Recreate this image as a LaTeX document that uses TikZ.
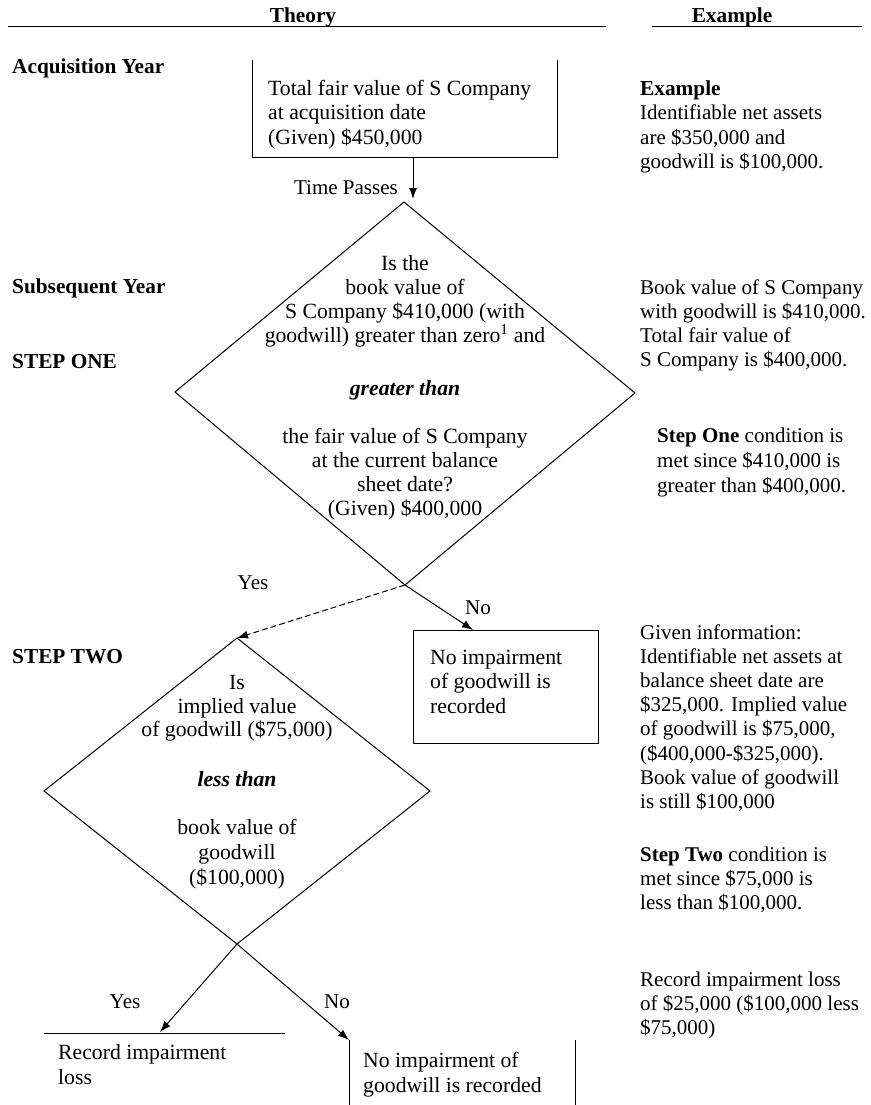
\documentclass[tikz,border=0pt]{standalone}
\usepackage{fontspec}
\setmainfont{Liberation Serif}
\usetikzlibrary{arrows.meta}
\begin{document}
\begin{tikzpicture}[x=1pt,y=-1pt,
  every node/.style={inner sep=0pt, font=\fontsize{21}{24}\selectfont},
  lw/.style={anchor=base west},
  lc/.style={anchor=base},
  big/.style={font=\fontsize{21.7}{24}\selectfont},
  bf/.style={font=\fontsize{21.3}{24}\selectfont\bfseries},
  ln/.style={line width=1pt},
  arr/.style={line width=1pt, -{Latex[length=11pt,width=8pt]}},
  dsh/.style={dash pattern=on 6pt off 3pt}
]
\useasboundingbox (0,0) rectangle (870,1105);

% header
\coordinate (h1a) at (8,27); \coordinate (h1b) at (606,27);
\coordinate (h2a) at (652,27); \coordinate (h2b) at (862,27);
\draw[ln] (h1a) -- (h1b);
\draw[ln] (h2a) -- (h2b);
\node[bf,lc] (hth) at (303,23) {Theory};
\node[bf,lc] (hex) at (732,23) {Example};

% left labels
\node[bf,lw] (acq) at (12,74) {Acquisition Year};
\node[bf,lw] (subs) at (12,293) {Subsequent Year};
\node[bf,lw] (s1) at (12,368) {STEP ONE};
\node[bf,lw] (s2) at (12,663) {STEP TWO};

% top box (open at top)
\coordinate (tbtl) at (252,60); \coordinate (tbbl) at (252,157);
\coordinate (tbbr) at (557,157); \coordinate (tbtr) at (557,60);
\draw[ln] (tbtl) -- (tbbl) -- (tbbr) -- (tbtr);
\foreach \t [count=\i] in {Total fair value of S Company, at acquisition date, {(Given) \$450,000}}
  \node[lw,big] (tb\i) at (268,{96+24*(\i-1)}) {\t};

% arrow time passes
\coordinate (tpa) at (413,157); \coordinate (tpb) at (413,199);
\draw[arr] (tpa) -- (tpb);
\node[anchor=base east] (tp) at (398,194) {Time Passes};

% diamond 1
\coordinate (d1t) at (404,202); \coordinate (d1r) at (635,393);
\coordinate (d1b) at (405,585); \coordinate (d1l) at (175,392);
\draw[ln] (d1t) -- (d1r) -- (d1b) -- (d1l) -- cycle;
\foreach \t/\yy [count=\i] in {Is the/270, book value of/294, {S Company \$410,000 (with}/318,
   {goodwill) greater than zero\textsuperscript{1} and}/342, {\textbf{\textit{greater than}}}/395,
   the fair value of S Company/443, at the current balance/467, sheet date?/491, {(Given) \$400,000}/515}
  \node[lc,big] (d1x\i) at (405,\yy) {\t};

% right column
\node[bf,lw] (rex) at (640,96) {Example};
\foreach \t [count=\i] in {Identifiable net assets, {are \$350,000 and}, {goodwill is \$100,000.}}
  \node[lw] (re\i) at (640,{120+24*(\i-1)}) {\t};
\foreach \t [count=\i] in {Book value of S Company, {with goodwill is \$410,000.}, Total fair value of, {S Company is \$400,000.}}
  \node[lw] (rb\i) at (640,{294+24*(\i-1)}) {\t};
\node[lw] (ro1) at (657,442) {\textbf{Step One} condition is};
\node[lw] (ro2) at (657,467) {met since \$410,000 is};
\node[lw] (ro3) at (657,492) {greater than \$400,000.};
\foreach \t [count=\i] in {Given information:, Identifiable net assets at, balance sheet date are,
   {\$325,000. Implied value}, {of goodwill is \$75,000,}, {(\$400,000-\$325,000).}, Book value of goodwill,
   {is still \$100,000}}
  \node[lw] (rg\i) at (640,{639+24.2*(\i-1)}) {\t};
\node[lw] (rt1) at (640,861) {\textbf{Step Two} condition is};
\node[lw] (rt2) at (640,885) {met since \$75,000 is};
\node[lw] (rt3) at (640,909) {less than \$100,000.};
\node[lw] (rr1) at (640,986) {Record impairment loss};
\node[lw] (rr2) at (640,1010) {of \$25,000 (\$100,000 less};
\node[lw] (rr3) at (640,1034) {\$75,000)};

% no box 1
\node[draw, line width=1pt, minimum width=185pt, minimum height=113pt, anchor=north west] (nob) at (413,630) {};
\foreach \t [count=\i] in {No impairment, of goodwill is, recorded}
  \node[lw,big] (nb\i) at (430,{664+24.5*(\i-1)}) {\t};

% diamond 2
\coordinate (d2t) at (237,638); \coordinate (d2r) at (430,791);
\coordinate (d2b) at (237,944); \coordinate (d2l) at (44,791);
\draw[ln] (d2t) -- (d2r) -- (d2b) -- (d2l) -- cycle;
\foreach \t/\yy [count=\i] in {Is/689, implied value/713, {of goodwill (\$75,000)}/736,
   {\textbf{\textit{less than}}}/786, book value of/834, goodwill/859, {(\$100,000)}/884}
  \node[lc,big] (d2x\i) at (237,\yy) {\t};

% connectors from diamond 1
\coordinate (noin) at (473,630);
\draw[arr,dsh] (d1b) -- (d2t);
\draw[arr] (d1b) -- (noin);
\node[lc] (y1) at (253,589) {Yes};
\node[lc] (n1) at (478,614) {No};

% bottom boxes
\coordinate (rl1) at (44,1033); \coordinate (rl2) at (285,1033);
\draw[ln] (rl1) -- (rl2);
\node[lw,big] (rec1) at (58,1059) {Record impairment};
\node[lw,big] (rec2) at (58,1084) {loss};
\coordinate (bl1) at (349,1040); \coordinate (bl2) at (349,1105);
\coordinate (br1) at (575,1040); \coordinate (br2) at (575,1105);
\draw[ln] (bl1) -- (bl2);
\draw[ln] (br1) -- (br2);
\node[lw,big] (nbb1) at (363,1067) {No impairment of};
\node[lw,big] (nbb2) at (363,1092) {goodwill is recorded};

% connectors from diamond 2
\coordinate (yin) at (160,1032);
\draw[arr] (d2b) -- (yin);
\draw[arr] (d2b) -- (bl1);
\node[lc] (y2) at (125,1008) {Yes};
\node[lc] (n2) at (337,1008) {No};
\end{tikzpicture}
\end{document}
